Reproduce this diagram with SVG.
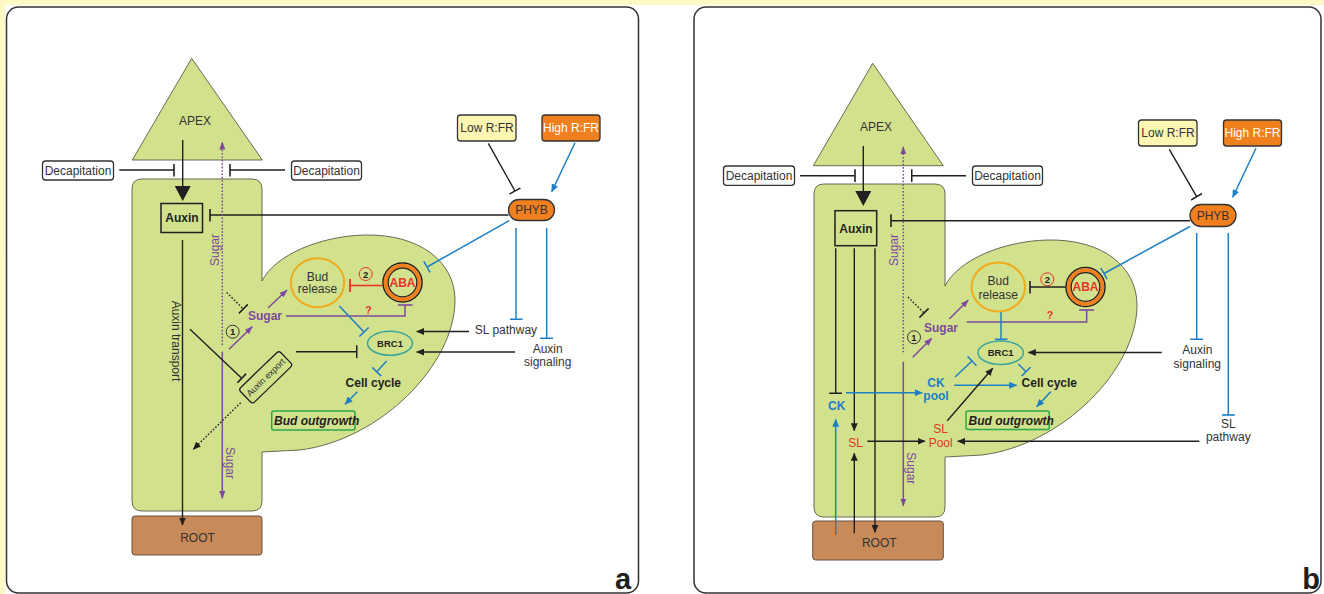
<svg xmlns="http://www.w3.org/2000/svg" width="1324" height="594" viewBox="0 0 1324 594">
<defs>
<style>
.t{font-family:"Liberation Sans",Arial,sans-serif;font-size:12px;fill:#333;text-anchor:middle}
.bd{font-weight:bold;fill:#231f20}
.k{stroke:#231f20;stroke-width:1.4;fill:none}
.bl{stroke:#1f7fc6;stroke-width:1.5;fill:none}
.pu{stroke:#7d4a9f;stroke-width:1.5;fill:none}
.rd{stroke:#e8322b;stroke-width:1.6;fill:none}
.dot{stroke-dasharray:1.6 1.8}
.plant{fill:#d2e18b;stroke:#5a5a4a;stroke-width:0.9}
.box{fill:#fff;stroke:#333;stroke-width:1.3}
.panel{fill:#fff;stroke:#333;stroke-width:1.5}
.root{fill:#c98a5a;stroke:#6b5040;stroke-width:1}
.or{fill:#f07f1e;stroke:#333;stroke-width:1.3}
.ly{fill:#fff6b2;stroke:#333;stroke-width:1.3}
</style>
<marker id="ak" viewBox="0 0 8 7" refX="7.5" refY="3.5" markerWidth="8" markerHeight="7" markerUnits="userSpaceOnUse" orient="auto"><path d="M0,0L8,3.5L0,7Z" fill="#231f20"/></marker>
<marker id="ab" viewBox="0 0 8 7" refX="7.5" refY="3.5" markerWidth="8" markerHeight="7" markerUnits="userSpaceOnUse" orient="auto"><path d="M0,0L8,3.5L0,7Z" fill="#1f7fc6"/></marker>
<marker id="ap" viewBox="0 0 8 6" refX="7.5" refY="3" markerWidth="8" markerHeight="6" markerUnits="userSpaceOnUse" orient="auto"><path d="M0,0L8,3L0,6Z" fill="#7d4a9f"/></marker>
<marker id="aK" viewBox="0 0 15 16" refX="8" refY="8" markerWidth="15" markerHeight="16" markerUnits="userSpaceOnUse" orient="auto"><path d="M0,0L15,8L0,16Z" fill="#231f20"/></marker>
<marker id="tk" viewBox="0 0 2 13" refX="1" refY="6.5" markerWidth="2" markerHeight="13" markerUnits="userSpaceOnUse" orient="auto"><path d="M1,0V13" stroke="#231f20" stroke-width="1.6"/></marker>
<marker id="tb" viewBox="0 0 2 13" refX="1" refY="6.5" markerWidth="2" markerHeight="13" markerUnits="userSpaceOnUse" orient="auto"><path d="M1,0V13" stroke="#1f7fc6" stroke-width="1.6"/></marker>
<marker id="tp" viewBox="0 0 2 15" refX="1" refY="7.5" markerWidth="2" markerHeight="15" markerUnits="userSpaceOnUse" orient="auto"><path d="M1,0V15" stroke="#7d4a9f" stroke-width="1.6"/></marker>
<marker id="tr" viewBox="0 0 2 13" refX="1" refY="6.5" markerWidth="2" markerHeight="13" markerUnits="userSpaceOnUse" orient="auto"><path d="M1,0V13" stroke="#e8322b" stroke-width="1.8"/></marker>
</defs>

<rect x="0" y="0" width="1324" height="594" fill="#fff"/>
<rect x="0" y="0" width="1324" height="5" fill="#fff9c8"/>
<rect x="0" y="0" width="5" height="594" fill="#fff9c8"/>

<!-- ================= PANEL A ================= -->
<g id="panel-a">
<rect class="panel" x="6.5" y="7" width="632" height="586" rx="12"/>
<path id="a-plant" class="plant" d="M142,179 H252 Q262,179 262,189 V281 C275,255 320,236 365,235 C420,234 455,262 455,300 C455,365 380,440 300,450 L262,452 V501 Q262,511 252,511 H142 Q132,511 132,501 V189 Q132,179 142,179 Z"/>
<g id="a-apex"><path class="plant" d="M191.7,58.3 L262.3,160 L132.3,160 Z"/><text class="t" x="195" y="125">APEX</text></g>
<g id="a-root"><rect class="root" x="132" y="516" width="130" height="39" rx="3"/><text class="t" x="197.5" y="541.5">ROOT</text></g>
<g id="a-decap-l"><rect class="box" x="42.5" y="161" width="71" height="19" rx="3"/><text class="t" x="78" y="174.5">Decapitation</text></g>
<g id="a-decap-r"><rect class="box" x="291.5" y="161" width="70" height="19" rx="3"/><text class="t" x="326.5" y="174.5">Decapitation</text></g>
<g id="a-auxin"><rect x="161" y="203.5" width="41.5" height="29" fill="none" stroke="#231f20" stroke-width="1.5"/><text class="t bd" x="182" y="222.3">Auxin</text></g>
<g id="a-low"><rect class="ly" x="457.5" y="115" width="58.5" height="26" rx="3"/><text class="t" x="487" y="132.3">Low R:FR</text></g>
<g id="a-high"><rect class="or" x="542" y="115" width="58" height="26" rx="3"/><text class="t" x="571" y="132.3" style="fill:#fff">High R:FR</text></g>
<g id="a-phyb"><rect class="or" x="508.5" y="199.5" width="46" height="21" rx="10.5"/><text class="t" x="531.5" y="214.3">PHYB</text></g>
<g id="a-budrelease"><ellipse cx="317.5" cy="282.7" rx="26.7" ry="24.5" fill="none" stroke="#f0ab1c" stroke-width="2"/><text class="t" x="317.5" y="280.5">Bud</text><text class="t" x="317.5" y="293.3">release</text></g>
<g id="a-aba"><circle cx="402.5" cy="282.5" r="19.5" fill="none" stroke="#231f20" stroke-width="1.5"/><circle cx="402.5" cy="282.5" r="16.8" fill="none" stroke="#f07f1e" stroke-width="4"/><circle cx="402.5" cy="282.5" r="14.3" fill="none" stroke="#231f20" stroke-width="1.2"/><text class="t bd" x="402.5" y="286.7" style="fill:#e8322b">ABA</text></g>
<g id="a-n2"><circle cx="365.7" cy="274" r="6.5" fill="none" stroke="#e8322b" stroke-width="1"/><text class="t bd" x="365.7" y="277.5" style="font-size:9.5px">2</text></g>
<g id="a-sugar"><text class="t bd" x="265" y="320.3" style="fill:#7d4a9f">Sugar</text></g>
<g id="a-n1"><circle cx="232.7" cy="331.7" r="6.5" fill="none" stroke="#333" stroke-width="1"/><text class="t bd" x="232.7" y="335.2" style="font-size:9.5px">1</text></g>
<g id="a-q"><text class="t bd" x="368.5" y="314" style="fill:#e8322b;font-size:10.5px">?</text></g>
<g id="a-brc1"><ellipse cx="390" cy="343.3" rx="22.5" ry="12" fill="none" stroke="#3ba59c" stroke-width="1.5"/><text class="t bd" x="390" y="346.8" style="font-size:9.5px">BRC1</text></g>
<g id="a-cellcycle"><text class="t bd" x="373.3" y="386.7">Cell cycle</text></g>
<g id="a-budout"><rect x="271.7" y="411" width="83.3" height="19" rx="2" fill="none" stroke="#2aa84a" stroke-width="1.5"/><text class="t bd" x="274" y="424.5" style="text-anchor:start;font-style:italic">Bud outgrowth</text></g>
<g id="a-auxexport" transform="translate(265.7,377.3) rotate(-44)"><rect x="-28" y="-10" width="56" height="20" rx="3" fill="none" stroke="#231f20" stroke-width="1.3"/><text class="t" x="0" y="3.2" style="font-size:9px">Auxin export</text></g>
<g id="a-slpath"><text class="t" x="506" y="333.7">SL pathway</text></g>
<g id="a-auxsig"><text class="t" x="547.7" y="352.5">Auxin</text><text class="t" x="547.7" y="366">signaling</text></g>
<text class="t" transform="translate(176,341) rotate(90)" x="0" y="4">Auxin transport</text>
<text class="t" transform="translate(215,250) rotate(-90)" x="0" y="4" style="fill:#7d4a9f">Sugar</text>
<text class="t" transform="translate(230,463) rotate(90)" x="0" y="4" style="fill:#7d4a9f">Sugar</text>
<text class="t bd" x="623" y="589" style="font-size:29px">a</text>
</g>

<g id="a-connectors">
<line class="k" x1="119.3" y1="170" x2="174" y2="170" marker-end="url(#tk)"/>
<line class="k" x1="285" y1="170" x2="230" y2="170" marker-end="url(#tk)"/>
<line class="k" x1="182.7" y1="140" x2="182.7" y2="194" stroke-width="3.2" marker-end="url(#aK)"/>
<line class="k" x1="508.5" y1="215" x2="210" y2="215" marker-end="url(#tk)"/>
<line class="k" x1="488.3" y1="143.3" x2="515" y2="191" marker-end="url(#tk)"/>
<line class="bl" x1="575" y1="142.7" x2="551.7" y2="191.7" marker-end="url(#ab)"/>
<line class="bl" x1="509.3" y1="220.7" x2="427" y2="267" marker-end="url(#tb)"/>
<line class="bl" x1="516" y1="228" x2="516" y2="319.3" marker-end="url(#tb)"/>
<line class="bl" x1="546.7" y1="228" x2="546.7" y2="338.3" marker-end="url(#tb)"/>
<line class="k" x1="469" y1="331.5" x2="416.7" y2="331.5" marker-end="url(#ak)"/>
<line class="k" x1="515" y1="352" x2="416.7" y2="352" marker-end="url(#ak)"/>
<line class="k" x1="296" y1="351.7" x2="356.7" y2="351.7" marker-end="url(#tk)"/>
<line class="k" x1="182.5" y1="240" x2="182.5" y2="525" marker-end="url(#ak)"/>
<line class="pu dot" x1="222.3" y1="345" x2="222.3" y2="142" marker-end="url(#ap)"/>
<line class="pu" x1="222.3" y1="351.7" x2="222.3" y2="498.5" marker-end="url(#ap)"/>
<line class="k dot" x1="226.7" y1="292.5" x2="243.3" y2="309" marker-end="url(#tk)"/>
<line class="pu" x1="229" y1="349.3" x2="252.3" y2="326.7" marker-end="url(#ap)"/>
<line class="pu" x1="268" y1="308" x2="287" y2="290" marker-end="url(#ap)"/>
<polyline class="pu" points="286,316 405,316 405,305" marker-end="url(#tp)"/>
<line class="rd" x1="382" y1="285.5" x2="350" y2="285.5" marker-end="url(#tr)"/>
<line class="bl" x1="339.3" y1="306" x2="364" y2="332" marker-end="url(#tb)"/>
<line class="bl" x1="386.7" y1="361" x2="376.7" y2="371.7" marker-end="url(#tb)"/>
<line class="bl" x1="357.3" y1="391.7" x2="345" y2="404.3" marker-end="url(#ab)"/>
<line class="k" x1="190" y1="329.3" x2="241.7" y2="378.3" marker-end="url(#tk)"/>
<line class="k dot" x1="240.7" y1="402.7" x2="193.3" y2="449.3" marker-end="url(#ak)"/>
</g>

<!-- ================= PANEL B ================= -->
<g id="panel-b">
<rect class="panel" x="694" y="7" width="627" height="586" rx="12"/>
<path id="b-plant" class="plant" d="M824,184 H935 Q945,184 945,194 V286 C958,260 1003,241 1048,240 C1103,239 1137,267 1137,305 C1137,370 1062,445 982,455 L945,457 V507 Q945,517 935,517 H824 Q814,517 814,507 V194 Q814,184 824,184 Z"/>
<g id="b-apex"><path class="plant" d="M872.7,63.3 L943.3,165.7 L813.3,165.7 Z"/><text class="t" x="876" y="131">APEX</text></g>
<g id="b-root"><rect class="root" x="812.7" y="521" width="130.6" height="39" rx="3"/><text class="t" x="879.3" y="547">ROOT</text></g>
<g id="b-decap-l"><rect class="box" x="723.5" y="166" width="71" height="19.3" rx="3"/><text class="t" x="759" y="180">Decapitation</text></g>
<g id="b-decap-r"><rect class="box" x="972.5" y="166" width="70" height="19.3" rx="3"/><text class="t" x="1007.5" y="180">Decapitation</text></g>
<g id="b-auxin"><rect x="835" y="210.7" width="41.7" height="35" fill="none" stroke="#231f20" stroke-width="1.5"/><text class="t bd" x="856" y="232.7">Auxin</text></g>
<g id="b-low"><rect class="ly" x="1138.5" y="120" width="58.5" height="26" rx="3"/><text class="t" x="1168" y="137.3">Low R:FR</text></g>
<g id="b-high"><rect class="or" x="1223.5" y="120" width="58" height="26" rx="3"/><text class="t" x="1252.5" y="137.3" style="fill:#fff">High R:FR</text></g>
<g id="b-phyb"><rect class="or" x="1190" y="204.5" width="46" height="22" rx="11"/><text class="t" x="1213" y="219.7">PHYB</text></g>
<g id="b-budrelease"><ellipse cx="998.3" cy="287" rx="26.7" ry="24.5" fill="none" stroke="#f0ab1c" stroke-width="2"/><text class="t" x="998.3" y="284.7">Bud</text><text class="t" x="998.3" y="299.2">release</text></g>
<g id="b-aba"><circle cx="1085.5" cy="287" r="19.5" fill="none" stroke="#231f20" stroke-width="1.5"/><circle cx="1085.5" cy="287" r="16.8" fill="none" stroke="#f07f1e" stroke-width="4"/><circle cx="1085.5" cy="287" r="14.3" fill="none" stroke="#231f20" stroke-width="1.2"/><text class="t bd" x="1085.5" y="291.2" style="fill:#e8322b">ABA</text></g>
<g id="b-n2"><circle cx="1047.3" cy="279.3" r="6.5" fill="none" stroke="#e8322b" stroke-width="1"/><text class="t bd" x="1047.3" y="282.8" style="font-size:9.5px">2</text></g>
<g id="b-sugar"><text class="t bd" x="941" y="331.7" style="fill:#7d4a9f">Sugar</text></g>
<g id="b-n1"><circle cx="914" cy="337.3" r="6.5" fill="none" stroke="#333" stroke-width="1"/><text class="t bd" x="914" y="340.8" style="font-size:9.5px">1</text></g>
<g id="b-q"><text class="t bd" x="1050" y="319" style="fill:#e8322b;font-size:10.5px">?</text></g>
<g id="b-brc1"><ellipse cx="1000.7" cy="352.7" rx="22.7" ry="11.7" fill="none" stroke="#3ba59c" stroke-width="1.5"/><text class="t bd" x="1000.7" y="356.2" style="font-size:9.5px">BRC1</text></g>
<g id="b-cellcycle"><text class="t bd" x="1049.3" y="387">Cell cycle</text></g>
<g id="b-budout"><rect x="966" y="411" width="83.3" height="18.5" rx="2" fill="none" stroke="#2aa84a" stroke-width="1.5"/><text class="t bd" x="968.5" y="424.5" style="text-anchor:start;font-style:italic">Bud outgrowth</text></g>
<g id="b-ckpool"><text class="t bd" x="936" y="386.7" style="fill:#1f7fc6">CK</text><text class="t bd" x="936" y="400.2" style="fill:#1f7fc6">pool</text></g>
<g id="b-ck"><text class="t bd" x="836.7" y="410.2" style="fill:#1f7fc6">CK</text></g>
<g id="b-sl"><text class="t" x="855.7" y="446.7" style="fill:#e8322b">SL</text></g>
<g id="b-slpool"><text class="t" x="940.7" y="433" style="fill:#e8322b">SL</text><text class="t" x="940.7" y="446.7" style="fill:#e8322b">Pool</text></g>
<g id="b-auxsig"><text class="t" x="1197.3" y="354.2">Auxin</text><text class="t" x="1197.3" y="368.2">signaling</text></g>
<g id="b-slpath"><text class="t" x="1228.3" y="427.7">SL</text><text class="t" x="1228.3" y="441.2">pathway</text></g>
<text class="t" transform="translate(894,250) rotate(-90)" x="0" y="4" style="fill:#7d4a9f">Sugar</text>
<text class="t" transform="translate(910.7,468.3) rotate(90)" x="0" y="4" style="fill:#7d4a9f">Sugar</text>
<text class="t bd" x="1311" y="589" style="font-size:29px">b</text>
</g>

<g id="b-connectors">
<line class="k" x1="800" y1="175.7" x2="855" y2="175.7" marker-end="url(#tk)"/>
<line class="k" x1="966" y1="175.7" x2="911.7" y2="175.7" marker-end="url(#tk)"/>
<line class="k" x1="863.3" y1="146" x2="863.3" y2="199" stroke-width="3.2" marker-end="url(#aK)"/>
<line class="k" x1="1190" y1="220.7" x2="891" y2="220.7" marker-end="url(#tk)"/>
<line class="k" x1="1169.3" y1="149.3" x2="1196.7" y2="196.7" marker-end="url(#tk)"/>
<line class="bl" x1="1256" y1="148.3" x2="1232.7" y2="197.3" marker-end="url(#ab)"/>
<line class="bl" x1="1190" y1="226.5" x2="1104" y2="273.5" marker-end="url(#tb)"/>
<line class="bl" x1="1196.7" y1="233" x2="1196.7" y2="339.3" marker-end="url(#tb)"/>
<line class="bl" x1="1228.3" y1="233" x2="1228.3" y2="415" marker-end="url(#tb)"/>
<line class="k" x1="1161.7" y1="352.5" x2="1028.3" y2="352.5" marker-end="url(#ak)"/>
<line class="k" x1="1199.3" y1="441.3" x2="957.7" y2="441.3" marker-end="url(#ak)"/>
<line class="k" x1="1066" y1="287" x2="1030" y2="287" marker-end="url(#tk)"/>
<polyline class="pu" points="966.7,322 1086.7,322 1086.7,310" marker-end="url(#tp)"/>
<line class="pu" x1="949.3" y1="319" x2="968.3" y2="300" marker-end="url(#ap)"/>
<line class="pu" x1="912.7" y1="357.3" x2="931.7" y2="338.3" marker-end="url(#ap)"/>
<line class="pu dot" x1="903.3" y1="352.3" x2="903.3" y2="146.7" marker-end="url(#ap)"/>
<line class="pu" x1="903.3" y1="361.7" x2="903.3" y2="506" marker-end="url(#ap)"/>
<line class="k dot" x1="908" y1="297" x2="924" y2="313" marker-end="url(#tk)"/>
<line class="bl" x1="1001" y1="312" x2="1001" y2="339.3" marker-end="url(#tb)"/>
<line class="bl" x1="1018.3" y1="364" x2="1026" y2="371.7" marker-end="url(#tb)"/>
<line class="bl" x1="1050.7" y1="391.7" x2="1036.7" y2="406.7" marker-end="url(#ab)"/>
<line class="bl" x1="955" y1="377" x2="972" y2="361" marker-end="url(#tb)"/>
<line class="bl" x1="954.3" y1="385.3" x2="1016.7" y2="385.3" marker-end="url(#ab)"/>
<line class="k" x1="947.3" y1="420.7" x2="992.7" y2="368.3" marker-end="url(#ak)"/>
<line class="k" x1="867.3" y1="441.3" x2="925" y2="441.3" marker-end="url(#ak)"/>
<line class="k" x1="835.7" y1="248.3" x2="835.7" y2="393.3" marker-end="url(#tk)"/>
<line class="k" x1="854.3" y1="248.3" x2="854.3" y2="430.7" marker-end="url(#ak)"/>
<line class="k" x1="875" y1="248.3" x2="875" y2="532.3" marker-end="url(#ak)"/>
<line class="bl" x1="846" y1="392.7" x2="922.3" y2="392.7" marker-end="url(#ab)"/>
<line class="bl" x1="835.7" y1="535" x2="835.7" y2="419.3" marker-end="url(#ab)"/>
<line class="k" x1="854.3" y1="533.3" x2="854.3" y2="453.3" marker-end="url(#ak)"/>
</g>
</svg>
